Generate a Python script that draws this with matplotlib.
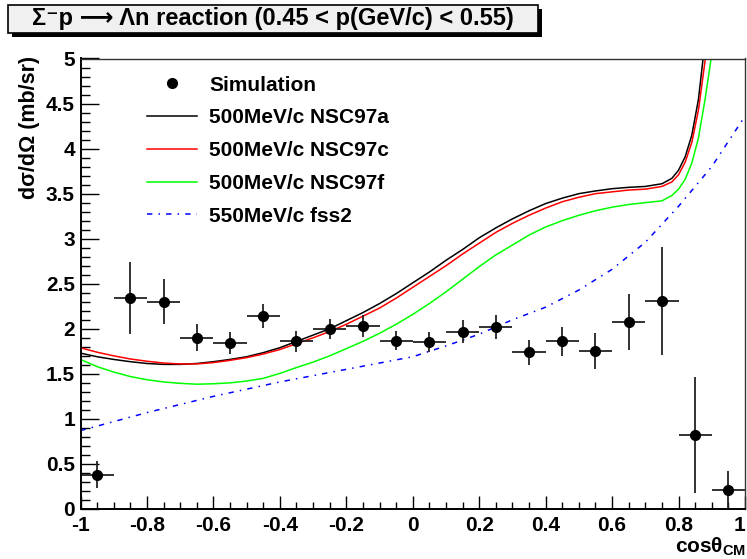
import numpy as np
import matplotlib
matplotlib.use("Agg")
import matplotlib.pyplot as plt
from matplotlib.lines import Line2D
from matplotlib.patches import Rectangle

plt.rcParams['font.family'] = ['Liberation Sans', 'DejaVu Sans']
plt.rcParams['font.weight'] = 'bold'
plt.rcParams['mathtext.fontset'] = 'custom'
plt.rcParams['mathtext.rm'] = 'Liberation Sans'
plt.rcParams['mathtext.bf'] = 'Liberation Sans:bold'
plt.rcParams['mathtext.it'] = 'Liberation Sans:italic'

# simulation points (bin centres, values, vertical errors)
sim_x = [-0.95, -0.85, -0.75, -0.65, -0.55, -0.45, -0.35, -0.25, -0.15, -0.05,
         0.05, 0.15, 0.25, 0.35, 0.45, 0.55, 0.65, 0.75, 0.85, 0.95]
sim_y = [0.38, 2.34, 2.30, 1.90, 1.84, 2.14, 1.86, 2.00, 2.03, 1.87,
         1.85, 1.97, 2.02, 1.74, 1.86, 1.75, 2.08, 2.31, 0.82, 0.21]
sim_err = [0.15, 0.40, 0.25, 0.15, 0.12, 0.13, 0.12, 0.11, 0.12, 0.11,
           0.11, 0.13, 0.13, 0.14, 0.16, 0.20, 0.31, 0.60, 0.64, 0.21]
bin_half = 0.05

# theory curves
nsc_x = [-1.0, -0.95, -0.9, -0.85, -0.8, -0.75, -0.7, -0.65, -0.6, -0.55,
         -0.5, -0.45, -0.4, -0.35, -0.3, -0.25, -0.2, -0.15, -0.1, -0.05,
         0.0, 0.05, 0.1, 0.15, 0.2, 0.25, 0.3, 0.35, 0.4, 0.45,
         0.5, 0.55, 0.6, 0.65, 0.7, 0.75, 0.78, 0.8, 0.82, 0.84,
         0.86, 0.88, 0.9, 0.92]
nsc97a = [1.73, 1.69, 1.66, 1.635, 1.615, 1.605, 1.605, 1.615, 1.635, 1.66,
          1.69, 1.735, 1.79, 1.86, 1.93, 2.00, 2.09, 2.18, 2.28, 2.39,
          2.51, 2.63, 2.76, 2.88, 3.01, 3.12, 3.22, 3.31, 3.39, 3.45,
          3.50, 3.53, 3.555, 3.57, 3.58, 3.61, 3.67, 3.76, 3.91, 4.15,
          4.55, 5.2, 6.1, 7.2]
nsc97c = [1.79, 1.74, 1.70, 1.665, 1.64, 1.62, 1.61, 1.61, 1.625, 1.65,
          1.68, 1.72, 1.77, 1.835, 1.90, 1.97, 2.05, 2.14, 2.23, 2.34,
          2.46, 2.58, 2.70, 2.83, 2.95, 3.07, 3.17, 3.26, 3.34, 3.41,
          3.46, 3.50, 3.52, 3.54, 3.55, 3.58, 3.63, 3.71, 3.85, 4.07,
          4.43, 4.98, 5.8, 6.9]
nsc97f = [1.66, 1.58, 1.52, 1.47, 1.435, 1.41, 1.395, 1.385, 1.39, 1.40,
          1.42, 1.45, 1.505, 1.57, 1.63, 1.70, 1.78, 1.86, 1.95, 2.05,
          2.16, 2.28, 2.41, 2.55, 2.69, 2.82, 2.93, 3.04, 3.13, 3.20,
          3.26, 3.31, 3.35, 3.38, 3.40, 3.42, 3.48, 3.55, 3.66, 3.84,
          4.12, 4.55, 5.05, 5.8]
fss2_x = [-1.0, -0.9, -0.8, -0.7, -0.6, -0.5, -0.4, -0.3, -0.2, -0.1, 0.0,
          0.1, 0.2, 0.3, 0.4, 0.5, 0.6, 0.7, 0.8, 0.9, 1.0]
fss2 = [0.87, 0.97, 1.07, 1.16, 1.25, 1.33, 1.41, 1.48, 1.55, 1.62, 1.69,
        1.81, 1.94, 2.10, 2.24, 2.43, 2.66, 2.96, 3.36, 3.80, 4.36]

labels = ['Simulation', '500MeV/c NSC97a', '500MeV/c NSC97c',
          '500MeV/c NSC97f', '550MeV/c fss2']
xtick_labels = ['-1', '-0.8', '-0.6', '-0.4', '-0.2', '0', '0.2', '0.4', '0.6', '0.8', '1']
ytick_labels = ['0', '0.5', '1', '1.5', '2', '2.5', '3', '3.5', '4', '4.5', '5']

dashdot = (0, (3.5, 4, 1, 4))

fig = plt.figure(figsize=(7.47, 5.59), dpi=100)
ax = fig.add_axes([80.5 / 747, 50 / 559, 664.5 / 747, 450.5 / 559])

ax.plot(nsc_x, nsc97a, color='black', lw=1.1)
ax.plot(nsc_x, nsc97c, color='#ff0000', lw=1.1)
ax.plot(nsc_x, nsc97f, color='#00ff00', lw=1.1)
ax.plot(fss2_x, fss2, color='#0000ff', lw=1.1, linestyle=dashdot)
ax.errorbar(sim_x, sim_y, yerr=sim_err, xerr=bin_half, fmt='o', color='black',
            ms=7, elinewidth=1.3, ecolor='#222222', capsize=0)

ax.set_xlim(-1, 1)
ax.set_ylim(0, 5)
ax.set_xticks(np.arange(-1, 1.01, 0.2))
ax.set_xticks(np.arange(-1, 1.01, 0.05), minor=True)
ax.set_yticks(np.arange(0, 5.01, 0.5))
ax.set_yticks(np.arange(0, 5.01, 0.1), minor=True)
ax.set_xticklabels(xtick_labels)
ax.set_yticklabels(ytick_labels)
ax.tick_params(axis='x', which='major', direction='in', length=9.5, width=1, labelsize=15, pad=5)
ax.tick_params(axis='x', which='minor', direction='in', length=5, width=1)
ax.tick_params(axis='y', which='major', direction='in', length=13, width=1, labelsize=15, pad=4)
ax.tick_params(axis='y', which='minor', direction='in', length=6.5, width=1)
for lab in ax.get_xticklabels() + ax.get_yticklabels():
    lab.set_fontweight('bold')
ax.get_xticklabels()[-1].set_horizontalalignment('right')
for s in ['left', 'bottom']:
    ax.spines[s].set_linewidth(1.4)
for s in ['top', 'right']:
    ax.spines[s].set_linewidth(1.0)
    ax.spines[s].set_color('#333333')

handles = [Line2D([], [], marker='o', ms=7, color='black', linestyle='none'),
           Line2D([], [], color='black', lw=1.1),
           Line2D([], [], color='#ff0000', lw=1.1),
           Line2D([], [], color='#00ff00', lw=1.1),
           Line2D([], [], color='#0000ff', lw=1.1, linestyle=dashdot)]
ax.legend(handles, labels, loc='upper left', bbox_to_anchor=(0.1, 0.962),
          frameon=False, prop={'size': 15, 'weight': 'bold'},
          handlelength=2.4, handletextpad=0.58, labelspacing=0.66, borderpad=0,
          borderaxespad=0)

fig.text(30 / 747, 1 - 56 / 559, 'dσ/dΩ (mb/sr)', rotation=90, ha='center',
         va='top', fontsize=15.5, fontweight='bold')
fig.text(746 / 747, 6 / 559, r'cosθ$_{\mathbf{CM}}$', ha='right', va='baseline',
         fontsize=15, fontweight='bold')

# title box with shadow
fig.patches.append(Rectangle((12 / 747, 1 - 37 / 559), 530 / 747, 28 / 559,
                             transform=fig.transFigure, facecolor='black',
                             edgecolor='black', lw=0))
fig.patches.append(Rectangle((8 / 747, 1 - 33 / 559), 530 / 747, 28 / 559,
                             transform=fig.transFigure, facecolor='#f0f0f0',
                             edgecolor='black', lw=1.2))
fig.text(273 / 747, 1 - 19 / 559,
         'Σ⁻p ⟶ Λn reaction (0.45 < p(GeV/c) < 0.55)',
         ha='center', va='center', fontsize=17, fontweight='bold')

fig.savefig('out.png', dpi=100)
